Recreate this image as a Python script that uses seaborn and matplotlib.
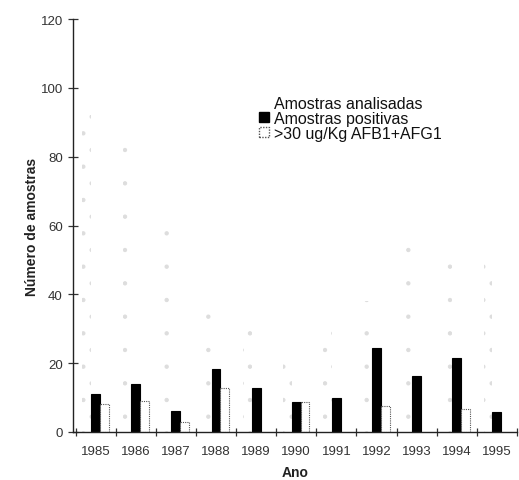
import matplotlib
matplotlib.use("Agg")
import matplotlib.pyplot as plt
import matplotlib.patches as mpatches
import pandas as pd
import seaborn as sns

anos = ["1985", "1986", "1987", "1988", "1989", "1990", "1991", "1992", "1993", "1994", "1995"]
analisadas = [92, 84, 66, 40, 30, 20, 30, 38, 55, 52, 49]
positivas = [11, 14, 6, 18.3, 12.7, 8.8, 10, 24.4, 16.3, 21.4, 5.7]
acima_30 = [8, 9, 3, 12.7, 0, 8.8, 0, 7.4, 0, 6.7, 0]

series = ["Amostras analisadas", "Amostras positivas", ">30 ug/Kg AFB1+AFG1"]

df = pd.DataFrame({
    "Ano": anos * 3,
    "serie": [series[0]] * 11 + [series[1]] * 11 + [series[2]] * 11,
    "valor": analisadas + positivas + acima_30,
})

sns.set_style("white")
plt.rcParams["font.family"] = ["Liberation Sans", "DejaVu Sans"]
plt.rcParams["hatch.color"] = "#d4d4d4"
plt.rcParams["hatch.linewidth"] = 0.7

fig = plt.figure(figsize=(5.19, 4.81), dpi=100)
ax = fig.add_axes([0.141, 0.1, 0.855, 0.858])

sns.barplot(data=df, x="Ano", y="valor", hue="serie", hue_order=series,
            palette=["white", "black", "white"], width=0.66, saturation=1,
            legend=False, ax=ax)

# estilo de cada série
for cont, cor in zip(ax.containers, ["none", "black", "#555555"]):
    for p in cont:
        p.set_linewidth(0.8)
        p.set_edgecolor(cor)
for p in ax.containers[0]:
    p.set_hatch(".")
    p.set_edgecolor("#dddddd")
    p.set_linewidth(0)
for p, v in zip(ax.containers[2], acima_30):
    p.set_linestyle((0, (1, 1)))
    if v == 0:
        p.set_visible(False)

ax.set_ylim(0, 120)
ax.set_xlim(-0.56, 10.27)
ax.set_yticks(range(0, 121, 20))
ax.set_xticks(range(11))
ax.set_xticks([i + 0.5 for i in range(-1, 11)], minor=True)
ax.tick_params(axis="x", which="major", bottom=False, pad=6, labelsize=9.5, colors="#333333")
ax.tick_params(axis="x", which="minor", bottom=True, length=6, width=0.9,
               direction="inout", color="#333333")
ax.tick_params(axis="y", left=True, length=7, width=0.9, direction="inout", pad=4,
               labelsize=9.5, colors="#333333")

for s in ["top", "right"]:
    ax.spines[s].set_visible(False)
for s in ["left", "bottom"]:
    ax.spines[s].set_color("#222222")
    ax.spines[s].set_linewidth(1.0)

ax.set_xlabel("Ano", fontsize=10, fontweight="bold", color="#222222", labelpad=6)
ax.set_ylabel("Número de amostras", fontsize=10, fontweight="bold", color="#222222", labelpad=1)

handles = [
    mpatches.Patch(facecolor="white", edgecolor="white", label=series[0]),
    mpatches.Patch(facecolor="black", edgecolor="black", label=series[1]),
    mpatches.Patch(facecolor="white", edgecolor="#555555", linestyle=(0, (1, 1)), label=series[2]),
]
leg = ax.legend(handles=handles, loc="upper left", bbox_to_anchor=(0.405, 0.83), frameon=False,
                fontsize=11.5, handlelength=0.6, handleheight=0.6, handletextpad=0.35,
                labelspacing=0.0, borderaxespad=0)
for t in leg.get_texts():
    t.set_color("#111111")

fig.savefig("out.png", dpi=100)
